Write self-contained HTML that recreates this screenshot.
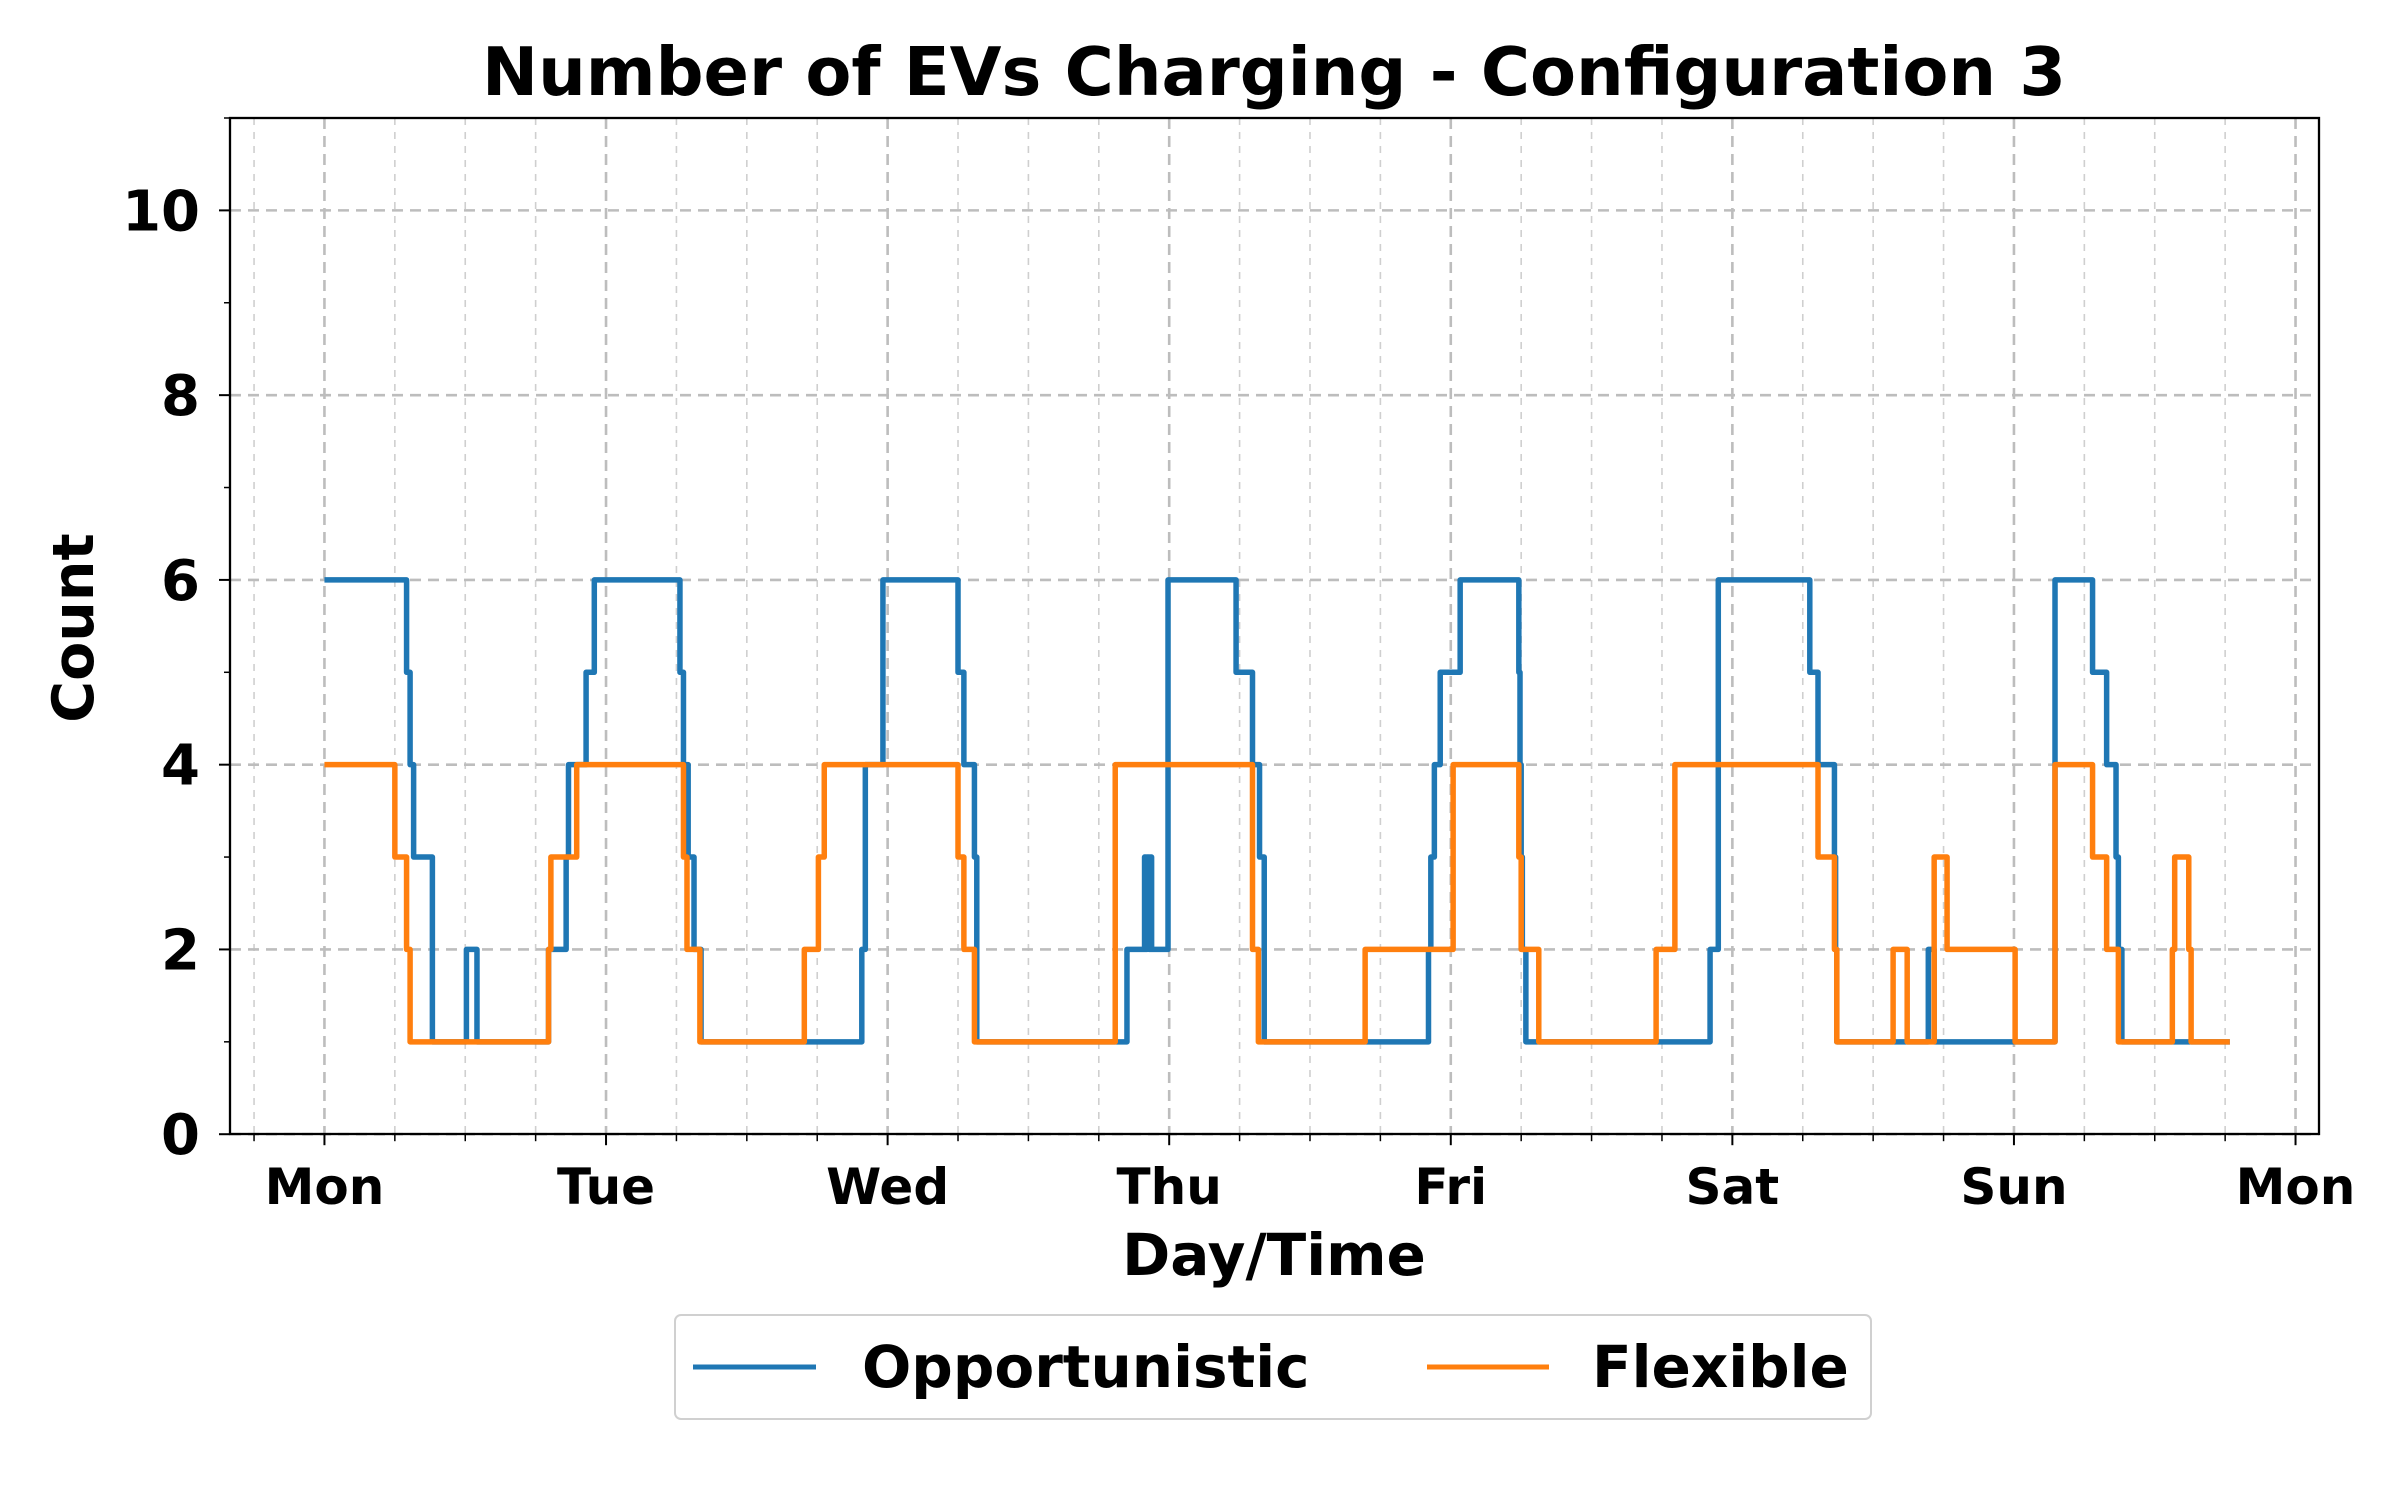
<!DOCTYPE html>
<html><head><meta charset="utf-8"><style>
html,body{margin:0;padding:0;background:#fff;}
svg text{font-family:"DejaVu Sans","Liberation Sans",sans-serif;font-weight:bold;fill:#000;}
</style></head><body>
<svg id="chart" width="2400" height="1500" viewBox="0 0 2400 1500" xmlns="http://www.w3.org/2000/svg">
<rect width="2400" height="1500" fill="#fff"/>
<g id="grid"></g>
<g id="series"></g>
<rect x="230" y="118" width="2089" height="1016" fill="none" stroke="#000" stroke-width="2.3"/>
<g id="ticks"></g>
<text x="1274" y="95" font-size="67" text-anchor="middle">Number of EVs Charging - Configuration 3</text>
<text x="1274" y="1275" font-size="58" text-anchor="middle">Day/Time</text>
<text x="0" y="0" font-size="57" text-anchor="middle" transform="translate(93,628) rotate(-90)">Count</text>
<g>
<rect x="675" y="1315" width="1196" height="104" rx="6" fill="#fff" stroke="#d0d0d0" stroke-width="2"/>
<line x1="693" y1="1367" x2="816" y2="1367" stroke="#1f77b4" stroke-width="5"/>
<text x="862" y="1387" font-size="58">Opportunistic</text>
<line x1="1427" y1="1367" x2="1549" y2="1367" stroke="#ff7f0e" stroke-width="5"/>
<text x="1592" y="1387" font-size="58">Flexible</text>
</g>
</svg>
<script>
// Data (hours from Monday 00:00; step-post values)
const oppTimes = [0,7.0,7.3,7.6,9.2,12.1,13.0,19.1,20.6,20.8,22.3,23.0,30.3,30.6,31.0,31.5,32.1,45.8,46.1,47.6,54.0,54.5,55.4,55.6,68.4,69.9,70.0,70.1,70.3,70.4,70.5,71.9,77.7,79.1,79.7,80.1,94.1,94.3,94.6,95.1,96.8,101.8,101.9,102.0,102.1,102.4,118.1,118.8,126.6,127.3,128.7,128.8,128.9,136.7,137.2,147.5,150.7,151.9,152.7,152.9,153.2,162.4];
const oppValues = [6,5,4,3,1,2,1,2,3,4,5,6,5,4,3,2,1,2,4,6,5,4,3,1,2,3,2,3,2,3,2,6,5,4,3,1,2,3,4,5,6,5,4,3,2,1,2,6,5,4,3,2,1,2,1,6,5,4,3,2,1,1];
const flexTimes = [0,6.0,7.0,7.3,19.1,19.3,21.5,30.6,30.9,32.0,40.9,42.1,42.6,54.0,54.5,55.4,67.4,79.1,79.6,88.7,96.2,101.8,102.0,103.5,113.5,115.1,127.3,128.7,128.9,133.7,134.9,137.2,138.3,144.1,147.5,150.7,151.9,152.9,157.5,157.7,158.9,159.1,162.4];
const flexValues = [4,3,2,1,2,3,4,3,2,1,2,3,4,3,2,1,4,2,1,2,4,3,2,1,2,4,3,2,1,2,1,3,2,1,4,3,2,1,2,3,2,1,1];
const dayLabels = ["Mon","Tue","Wed","Thu","Fri","Sat","Sun","Mon"];
const yTicks = [0,2,4,6,8,10];

const NS="http://www.w3.org/2000/svg";
const X0=230,X1=2319,Y0=1134.2,Y1=118;
const xMin=-8.05,xMax=170.0,yMin=0,yMax=11;
function xs(h){return X0+(h-xMin)/(xMax-xMin)*(X1-X0);}
function ys(v){return Y0-(v-yMin)/(yMax-yMin)*(Y0-Y1);}
function mk(tag,attrs,parent){const e=document.createElementNS(NS,tag);for(const k in attrs)e.setAttribute(k,attrs[k]);parent.appendChild(e);return e;}
const grid=document.getElementById('grid'),ticks=document.getElementById('ticks'),series=document.getElementById('series');

for(let h=-6;h<=168;h+=6){
  if(h%24===0) continue;
  const x=xs(h);
  const l=mk('line',{x1:x,y1:Y1,x2:x,y2:Y0,stroke:'#cfcfcf','stroke-width':1.6,'stroke-dasharray':'7,7'},grid);
  
  
  const t=mk('line',{x1:x,y1:Y0,x2:x,y2:Y0+7,stroke:'#000','stroke-width':1.5},ticks);
  
  
}
dayLabels.forEach((d,i)=>{
  const x=xs(i*24);
  const l=mk('line',{x1:x,y1:Y1,x2:x,y2:Y0,stroke:'#bdbdbd','stroke-width':2.6,'stroke-dasharray':'11,7'},grid);
  
  
  const t=mk('line',{x1:x,y1:Y0,x2:x,y2:Y0+11,stroke:'#000','stroke-width':2},ticks);
  
  
  const tx=mk('text',{x:x,y:1204,'font-size':50,'text-anchor':'middle'},ticks);
  tx.textContent=d;
  
  
});
yTicks.forEach(v=>{
  const y=ys(v);
  const l=mk('line',{x1:X0,y1:y,x2:X1,y2:y,stroke:'#bdbdbd','stroke-width':2.6,'stroke-dasharray':'11,7'},grid);
  
  
  const t=mk('line',{x1:X0-11,y1:y,x2:X0,y2:y,stroke:'#000','stroke-width':2},ticks);
  
  
  const tx=mk('text',{x:X0-30,y:y+20,'font-size':56,'text-anchor':'end'},ticks);
  tx.textContent=String(v);
  
  
});
for(let v=1;v<=11;v+=2){
  const y=ys(v);
  const t=mk('line',{x1:X0-6,y1:y,x2:X0,y2:y,stroke:'#000','stroke-width':1.5},ticks);
  
  
}
function stepPath(times,vals){
  let d='M'+xs(times[0])+','+ys(vals[0]);
  for(let i=1;i<times.length;i++){
    d+=' H'+xs(times[i])+' V'+ys(vals[i]);
  }
  return d;
}
const p1=mk('path',{d:stepPath(oppTimes,oppValues),fill:'none',stroke:'#1f77b4','stroke-width':5.5,'stroke-linejoin':'round'},series);


const p2=mk('path',{d:stepPath(flexTimes,flexValues),fill:'none',stroke:'#ff7f0e','stroke-width':5.5,'stroke-linejoin':'round'},series);


</script>
</body></html>
